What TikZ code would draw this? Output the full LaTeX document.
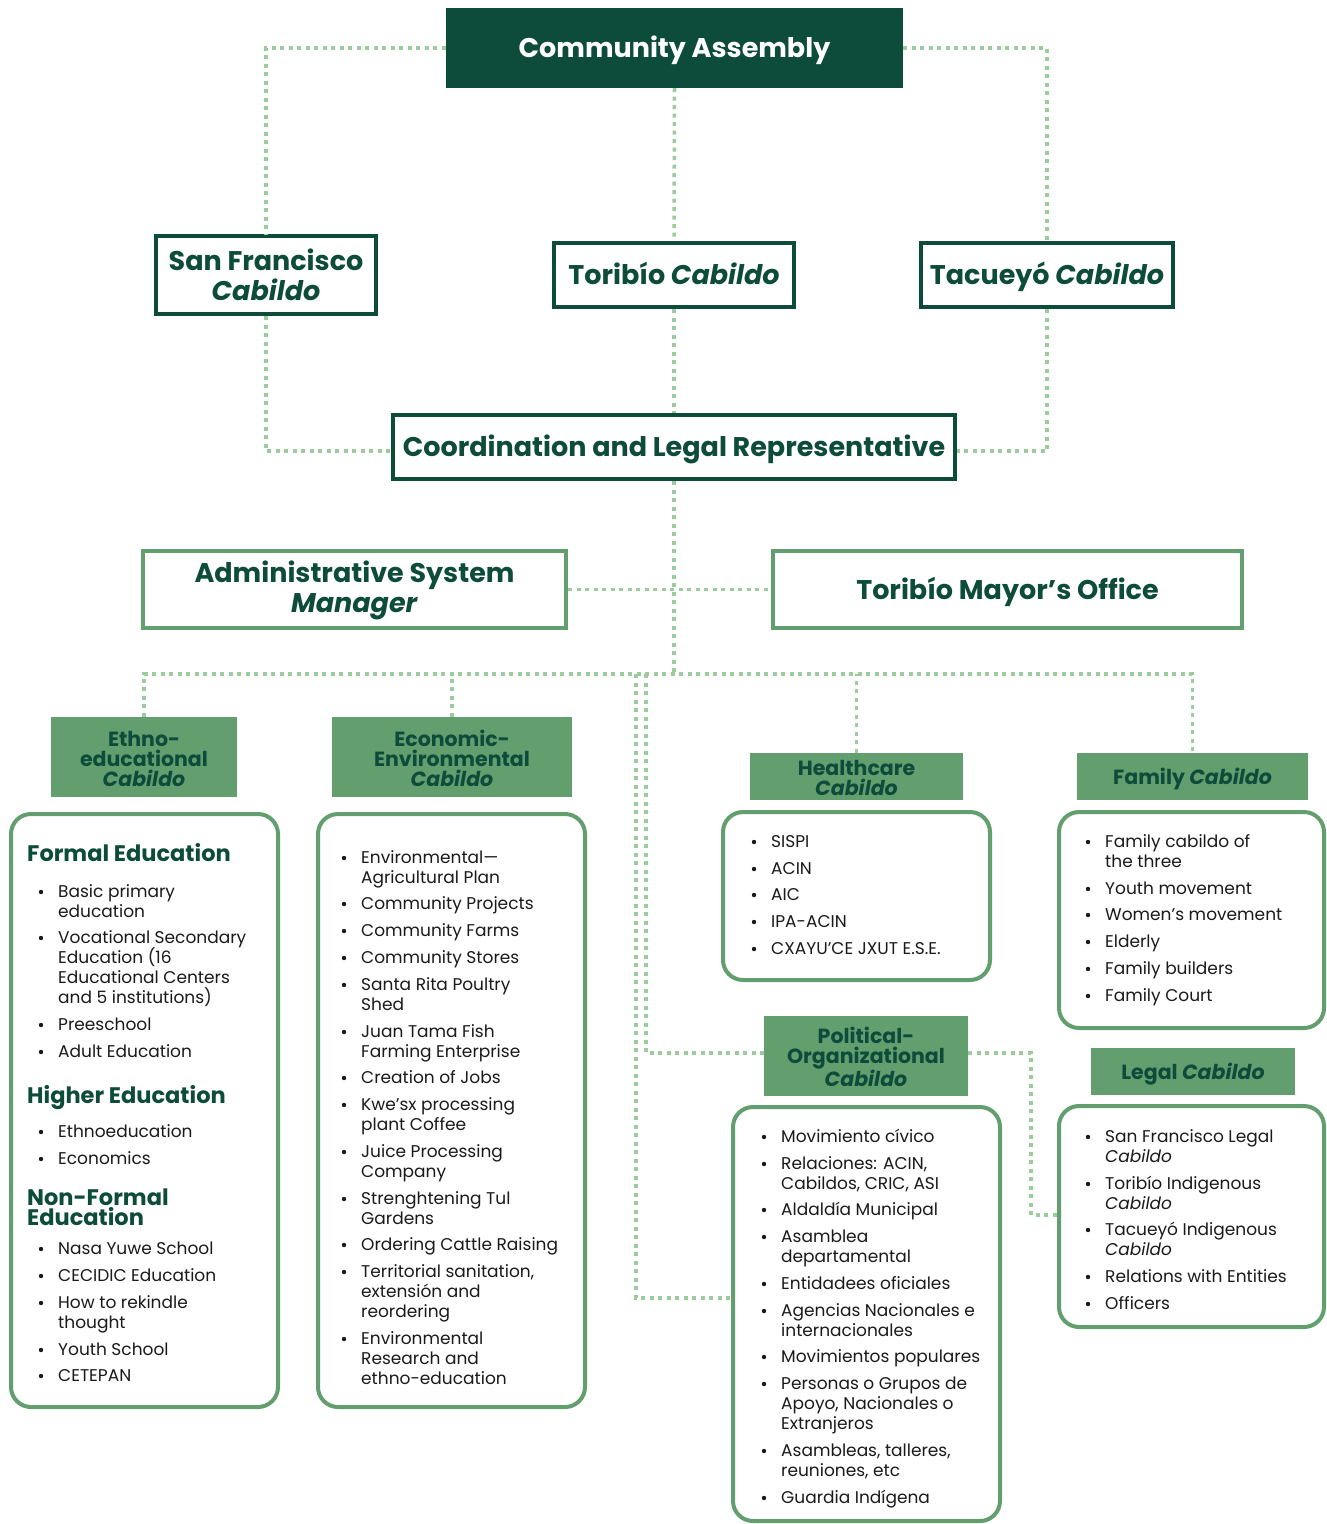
\documentclass[tikz,border=0pt]{standalone}
\usepackage{fontspec}
\setmainfont{Poppins}
\definecolor{darkg}{HTML}{0D4B3B}
\definecolor{midg}{HTML}{629E6E}
\definecolor{dotg}{HTML}{9CCB9E}
\definecolor{txt}{HTML}{1A1A1A}
\newcounter{ln}
\newcommand\li[3]{\stepcounter{ln}\node[btxt] (t\theln) at (#1,#2) {#3};}
\newcommand\bi[3]{\li{#1}{#2}{#3}\node[bdot] (d\theln) at (#1-17,#2+1) {};}
\newcommand\hd[3]{\stepcounter{ln}\node[head] (h\theln) at (#1,#2) {#3};}
\tikzset{
  dotc/.style={draw=dotg, line width=3.5pt, dash pattern=on 4pt off 4.5pt},
  darkbox/.style={draw=darkg, line width=4pt, fill=white, text=darkg, font=\bfseries\fontsize{27}{30}\selectfont, align=center, inner sep=0pt},
  midbox/.style={draw=midg, line width=4pt, fill=white, text=darkg, font=\bfseries\fontsize{27}{30}\selectfont, align=center, inner sep=0pt},
  oneline/.style={text height=21pt, text depth=2pt},
  gbox/.style={fill=midg, text=darkg, font=\bfseries\fontsize{20.5}{20}\selectfont, align=center, inner sep=0pt},
  cbox/.style={draw=midg, line width=4pt, rounded corners=20pt, fill=white, inner sep=0pt},
  btxt/.style={anchor=west, inner sep=0pt, text height=14pt, text depth=2pt, font=\fontsize{17}{20}\selectfont, text=txt},
  bdot/.style={circle, fill=txt, inner sep=0pt, minimum size=4.4pt},
  head/.style={anchor=west, inner sep=0pt, text=darkg, font=\bfseries\fontsize{22.5}{22}\selectfont, text height=17pt, text depth=1pt}
}
\begin{document}
\begin{tikzpicture}[x=1pt,y=-1pt]
\useasboundingbox (0,0) rectangle (1327,1524);
% top level
\node[fill=darkg, text=white, font=\bfseries\fontsize{27}{30}\selectfont, oneline, minimum width=457pt, minimum height=80pt, inner sep=0pt] (ca) at (674.5,48) {Community Assembly};
\node[darkbox, minimum width=220pt, minimum height=78pt] (sf) at (266,275) {San Francisco\\\textit{Cabildo}};
\node[darkbox, oneline, minimum width=240pt, minimum height=64pt] (tor) at (674,275) {Toribío \textit{Cabildo}};
\node[darkbox, oneline, minimum width=252pt, minimum height=64pt] (tac) at (1047,275) {Tacueyó \textit{Cabildo}};
\node[darkbox, oneline, minimum width=562pt, minimum height=64pt] (coord) at (674,447) {Coordination and Legal Representative};
\node[midbox, minimum width=423pt, minimum height=77pt] (adm) at (354.5,589.5) {\rule{0pt}{24pt}Administrative System\\\textit{Manager}};
\node[midbox, oneline, minimum width=469pt, minimum height=77pt] (may) at (1007.5,589.5) {Toribío Mayor’s Office};
% green title boxes
\node[gbox, minimum width=186pt, minimum height=80pt] (eth) at (144,757) {\rule{0pt}{19pt}Ethno-\\educational\\\textit{Cabildo}};
\node[gbox, minimum width=240pt, minimum height=80pt] (eco) at (452,757) {\rule{0pt}{19pt}Economic-\\Environmental\\\textit{Cabildo}};
\node[gbox, minimum width=213pt, minimum height=47pt] (hea) at (856.5,776.5) {\rule{0pt}{18pt}Healthcare\\\textit{Cabildo}};
\node[gbox, text height=16pt, text depth=1pt, minimum width=231pt, minimum height=47pt] (fam) at (1192.5,776.5) {Family \textit{Cabildo}};
\node[gbox, minimum width=204pt, minimum height=80pt] (pol) at (866,1056) {\rule{0pt}{19pt}Political-\\Organizational\\\textit{Cabildo}};
\node[gbox, text height=16pt, text depth=1pt, minimum width=204pt, minimum height=47pt] (leg) at (1193,1071.5) {Legal \textit{Cabildo}};
% content boxes
\node[cbox, minimum width=267pt, minimum height=593pt] (ethc) at (144.5,1110.5) {};
\node[cbox, minimum width=267pt, minimum height=593pt] (ecoc) at (451.5,1110.5) {};
\node[cbox, minimum width=267pt, minimum height=168pt] (heac) at (856.5,896) {};
\node[cbox, minimum width=265pt, minimum height=216pt] (famc) at (1191.5,920) {};
\node[cbox, minimum width=267pt, minimum height=414pt] (polc) at (866.5,1314) {};
\node[cbox, minimum width=265pt, minimum height=221pt] (legc) at (1191.5,1216.5) {};
% connectors
\coordinate (bus) at (674,674);
\coordinate (pa) at (646,674);
\coordinate (pb) at (636,674);
\draw[dotc] (ca.west) -| (sf.north);
\draw[dotc] (ca.east) -| (tac.north);
\draw[dotc] (ca.south) -- (tor.north);
\draw[dotc] (sf.south) |- ([yshift=-4pt]coord.west);
\draw[dotc] (tac.south) |- ([yshift=-4pt]coord.east);
\draw[dotc] (tor.south) -- (coord.north);
\draw[dotc] (coord.south) -- (bus);
\draw[dotc] (adm.east) -- (may.west);
\draw[dotc] (eth.north) |- (bus) -| (fam.north);
\draw[dotc] (eco.north) -- (eco.north |- bus);
\draw[dotc] (hea.north) -- (hea.north |- bus);
\draw[dotc] (pa) |- ([yshift=3pt]pol.west);
\draw[dotc] (pb) |- ([yshift=16pt]polc.west);
\draw[dotc] ([yshift=3pt]pol.east) -- ++(63,0) |- ([yshift=1.5pt]legc.west);
% Ethno-educational content
\hd{27}{853}{Formal Education}
\bi{58}{891}{Basic primary}\li{58}{911}{education}
\bi{58}{937}{Vocational Secondary}\li{58}{957}{Education (16}\li{58}{977}{Educational Centers}\li{58}{997}{and 5 institutions)}
\bi{58}{1024}{Preeschool}
\bi{58}{1051}{Adult Education}
\hd{27}{1095}{Higher Education}
\bi{58}{1131}{Ethnoeducation}
\bi{58}{1158}{Economics}
\hd{27}{1197}{Non-Formal}\hd{27}{1217}{Education}
\bi{58}{1248}{Nasa Yuwe School}
\bi{58}{1275}{CECIDIC Education}
\bi{58}{1302}{How to rekindle}\li{58}{1322}{thought}
\bi{58}{1349}{Youth School}
\bi{58}{1375}{CETEPAN}
% Economic-Environmental content
\bi{361}{857}{Environmental—}\li{361}{877}{Agricultural Plan}
\bi{361}{903}{Community Projects}
\bi{361}{930}{Community Farms}
\bi{361}{957}{Community Stores}
\bi{361}{984}{Santa Rita Poultry}\li{361}{1004}{Shed}
\bi{361}{1031}{Juan Tama Fish}\li{361}{1051}{Farming Enterprise}
\bi{361}{1077}{Creation of Jobs}
\bi{361}{1104}{Kwe’sx processing}\li{361}{1124}{plant Coffee}
\bi{361}{1151}{Juice Processing}\li{361}{1171}{Company}
\bi{361}{1198}{Strenghtening Tul}\li{361}{1218}{Gardens}
\bi{361}{1244}{Ordering Cattle Raising}
\bi{361}{1271}{Territorial sanitation,}\li{361}{1291}{extensión and}\li{361}{1311}{reordering}
\bi{361}{1338}{Environmental}\li{361}{1358}{Research and}\li{361}{1378}{ethno-education}
% Healthcare content
\bi{771}{841}{SISPI}
\bi{771}{868}{ACIN}
\bi{771}{894}{AIC}
\bi{771}{921}{IPA-ACIN}
\bi{771}{948}{CXAYU’CE JXUT E.S.E.}
% Family content
\bi{1105}{841}{Family cabildo of}\li{1105}{861}{the three}
\bi{1105}{888}{Youth movement}
\bi{1105}{914}{Women’s movement}
\bi{1105}{941}{Elderly}
\bi{1105}{968}{Family builders}
\bi{1105}{995}{Family Court}
% Political-Organizational content
\bi{781}{1136}{Movimiento cívico}
\bi{781}{1163}{Relaciones: ACIN,}\li{781}{1183}{Cabildos, CRIC, ASI}
\bi{781}{1209}{Aldaldía Municipal}
\bi{781}{1236}{Asamblea}\li{781}{1256}{departamental}
\bi{781}{1283}{Entidadees oficiales}
\bi{781}{1310}{Agencias Nacionales e}\li{781}{1330}{internacionales}
\bi{781}{1356}{Movimientos populares}
\bi{781}{1383}{Personas o Grupos de}\li{781}{1403}{Apoyo, Nacionales o}\li{781}{1423}{Extranjeros}
\bi{781}{1450}{Asambleas, talleres,}\li{781}{1470}{reuniones, etc}
\bi{781}{1497}{Guardia Indígena}
% Legal content
\bi{1105}{1136}{San Francisco Legal}\li{1105}{1156}{\textit{Cabildo}}
\bi{1105}{1183}{Toribío Indigenous}\li{1105}{1203}{\textit{Cabildo}}
\bi{1105}{1229}{Tacueyó Indigenous}\li{1105}{1249}{\textit{Cabildo}}
\bi{1105}{1276}{Relations with Entities}
\bi{1105}{1303}{Officers}
\end{tikzpicture}
\end{document}
